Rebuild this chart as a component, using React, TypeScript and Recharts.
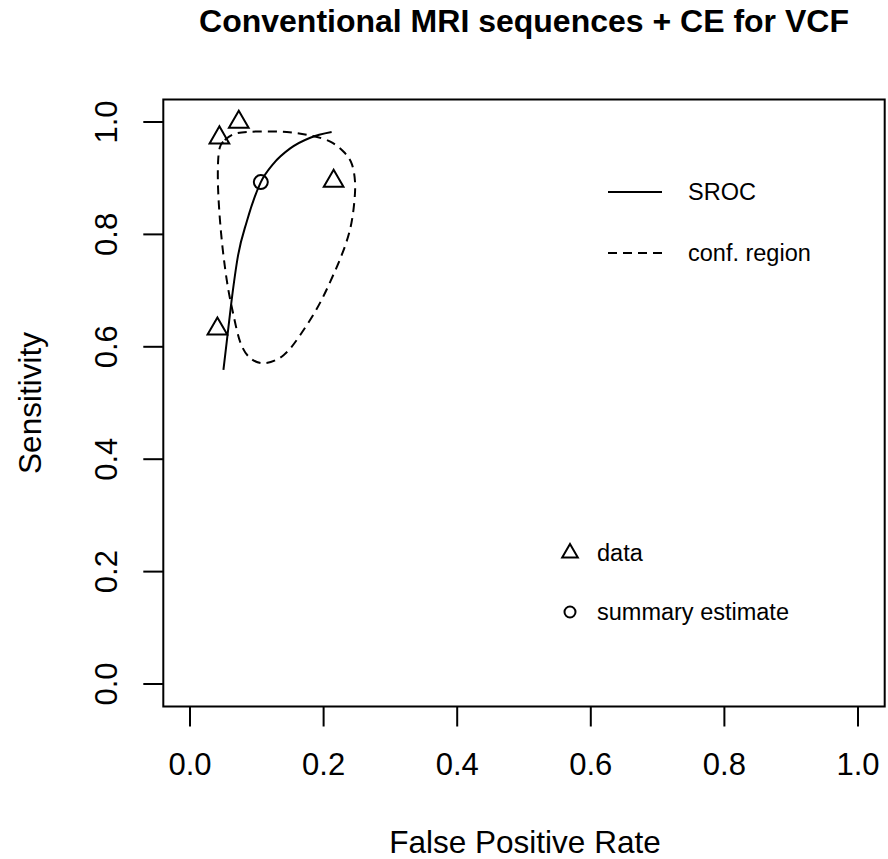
import React from "react";
import {
  ComposedChart,
  Line,
  Scatter,
  XAxis,
  YAxis,
  ReferenceArea,
} from "recharts";

// study estimates (triangles)
const studyFpr = [0.073, 0.044, 0.215, 0.041];
const studySens = [1.0, 0.972, 0.895, 0.632];

// summary estimate (circle)
const summaryFpr = [0.106];
const summarySens = [0.893];

// SROC curve
const srocFpr = [0.05, 0.055, 0.062, 0.072, 0.085, 0.106, 0.125, 0.15, 0.18, 0.212];
const srocSens = [0.559, 0.609, 0.68, 0.763, 0.823, 0.893, 0.926, 0.953, 0.972, 0.982];

// confidence region outline (closed)
const confFpr = [
  0.052, 0.07, 0.105, 0.145, 0.18, 0.21, 0.23, 0.242, 0.247, 0.246, 0.24, 0.227,
  0.21, 0.19, 0.165, 0.14, 0.112, 0.09, 0.075, 0.065, 0.057, 0.05, 0.045, 0.042,
  0.042, 0.045, 0.052,
];
const confSens = [
  0.968, 0.98, 0.983, 0.982, 0.976, 0.965, 0.947, 0.926, 0.894, 0.858, 0.811, 0.763,
  0.716, 0.668, 0.621, 0.585, 0.571, 0.58, 0.609, 0.657, 0.704, 0.763, 0.823, 0.882,
  0.929, 0.956, 0.968,
];

const ticks = [0, 0.2, 0.4, 0.6, 0.8, 1.0];
const domain: [number, number] = [-0.04, 1.04];

const title = "Conventional MRI sequences + CE for VCF";
const xLabel = "False Positive Rate";
const yLabel = "Sensitivity";
const lineLegend = ["SROC", "conf. region"];
const pointLegend = ["data", "summary estimate"];

const zip = (xs: number[], ys: number[]) => xs.map((x, i) => ({ x, y: ys[i] }));
const studyData = zip(studyFpr, studySens);
const summaryData = zip(summaryFpr, summarySens);
const srocData = zip(srocFpr, srocSens);
const confData = zip(confFpr, confSens);

const FONT = "'Liberation Sans', Arial, Helvetica, sans-serif";

function triPoints(cx: number, cy: number, r: number) {
  const top = 1.555 * r;
  const half = 1.347 * r;
  const base = 0.778 * r;
  return `${cx},${cy - top} ${cx + half},${cy + base} ${cx - half},${cy + base}`;
}

const Triangle = (props: any) => (
  <polygon
    points={triPoints(props.cx, props.cy, 7.3)}
    fill="none"
    stroke="#000"
    strokeWidth={2}
  />
);

const Circle = (props: any) => (
  <circle cx={props.cx} cy={props.cy} r={7} fill="none" stroke="#000" strokeWidth={2} />
);

const XTick = ({ x, y, payload }: any) => (
  <text
    x={x}
    y={y + 36}
    textAnchor="middle"
    dominantBaseline="central"
    fontFamily={FONT}
    fontSize={31}
    fill="#000"
  >
    {Number(payload.value).toFixed(1)}
  </text>
);

const YTick = ({ x, y, payload }: any) => (
  <text
    x={x - 35}
    y={y}
    transform={`rotate(-90, ${x - 35}, ${y})`}
    textAnchor="middle"
    dominantBaseline="central"
    fontFamily={FONT}
    fontSize={31}
    fill="#000"
  >
    {Number(payload.value).toFixed(1)}
  </text>
);

export default function App() {
  return (
    <div
      style={{
        position: "absolute",
        left: 0,
        top: 0,
        width: 888,
        height: 859,
        background: "#fff",
      }}
    >
      <ComposedChart
        width={888}
        height={859}
        margin={{ top: 99.5, right: 3.3, bottom: 12.5, left: 23.3 }}
      >
        <XAxis
          type="number"
          dataKey="x"
          domain={domain}
          ticks={ticks}
          allowDataOverflow
          height={140}
          axisLine={false}
          tickSize={20}
          tickLine={{ stroke: "#000", strokeWidth: 2 }}
          tick={<XTick />}
          interval={0}
        />
        <YAxis
          type="number"
          dataKey="y"
          domain={domain}
          ticks={ticks}
          allowDataOverflow
          width={140}
          axisLine={false}
          tickSize={20}
          tickLine={{ stroke: "#000", strokeWidth: 2 }}
          tick={<YTick />}
          interval={0}
        />
        <ReferenceArea
          x1={-0.04}
          x2={1.04}
          y1={-0.04}
          y2={1.04}
          fill="none"
          stroke="#000"
          strokeWidth={2}
        />
        <Line
          data={confData}
          dataKey="y"
          type="natural"
          stroke="#000"
          strokeWidth={2}
          strokeDasharray="9 6"
          dot={false}
          activeDot={false}
          isAnimationActive={false}
        />
        <Line
          data={srocData}
          dataKey="y"
          type="monotone"
          stroke="#000"
          strokeWidth={2}
          dot={false}
          activeDot={false}
          isAnimationActive={false}
        />
        <Scatter data={studyData} dataKey="y" shape={<Triangle />} isAnimationActive={false} />
        <Scatter data={summaryData} dataKey="y" shape={<Circle />} isAnimationActive={false} />
      </ComposedChart>

      <svg
        width={888}
        height={859}
        style={{ position: "absolute", left: 0, top: 0, pointerEvents: "none" }}
        fontFamily={FONT}
      >
        <text x={524} y={21} textAnchor="middle" dominantBaseline="central" fontSize={32} fontWeight="bold">
          {title}
        </text>
        <text x={525} y={842} textAnchor="middle" dominantBaseline="central" fontSize={31.5}>
          {xLabel}
        </text>
        <text
          x={30}
          y={403}
          transform="rotate(-90, 30, 403)"
          textAnchor="middle"
          dominantBaseline="central"
          fontSize={31.5}
        >
          {yLabel}
        </text>

        {/* line legend */}
        <line x1={608} x2={662} y1={192} y2={192} stroke="#000" strokeWidth={2} />
        <text x={688} y={192} dominantBaseline="central" fontSize={23.5}>
          {lineLegend[0]}
        </text>
        <line x1={608} x2={662} y1={253} y2={253} stroke="#000" strokeWidth={2} strokeDasharray="9 6" />
        <text x={688} y={253} dominantBaseline="central" fontSize={23.5}>
          {lineLegend[1]}
        </text>

        {/* point legend */}
        <polygon points={triPoints(570, 553, 5.8)} fill="none" stroke="#000" strokeWidth={2} />
        <text x={597} y={553} dominantBaseline="central" fontSize={23.5}>
          {pointLegend[0]}
        </text>
        <circle cx={570} cy={612} r={5.5} fill="none" stroke="#000" strokeWidth={2} />
        <text x={597} y={612} dominantBaseline="central" fontSize={23.5}>
          {pointLegend[1]}
        </text>
      </svg>
    </div>
  );
}
